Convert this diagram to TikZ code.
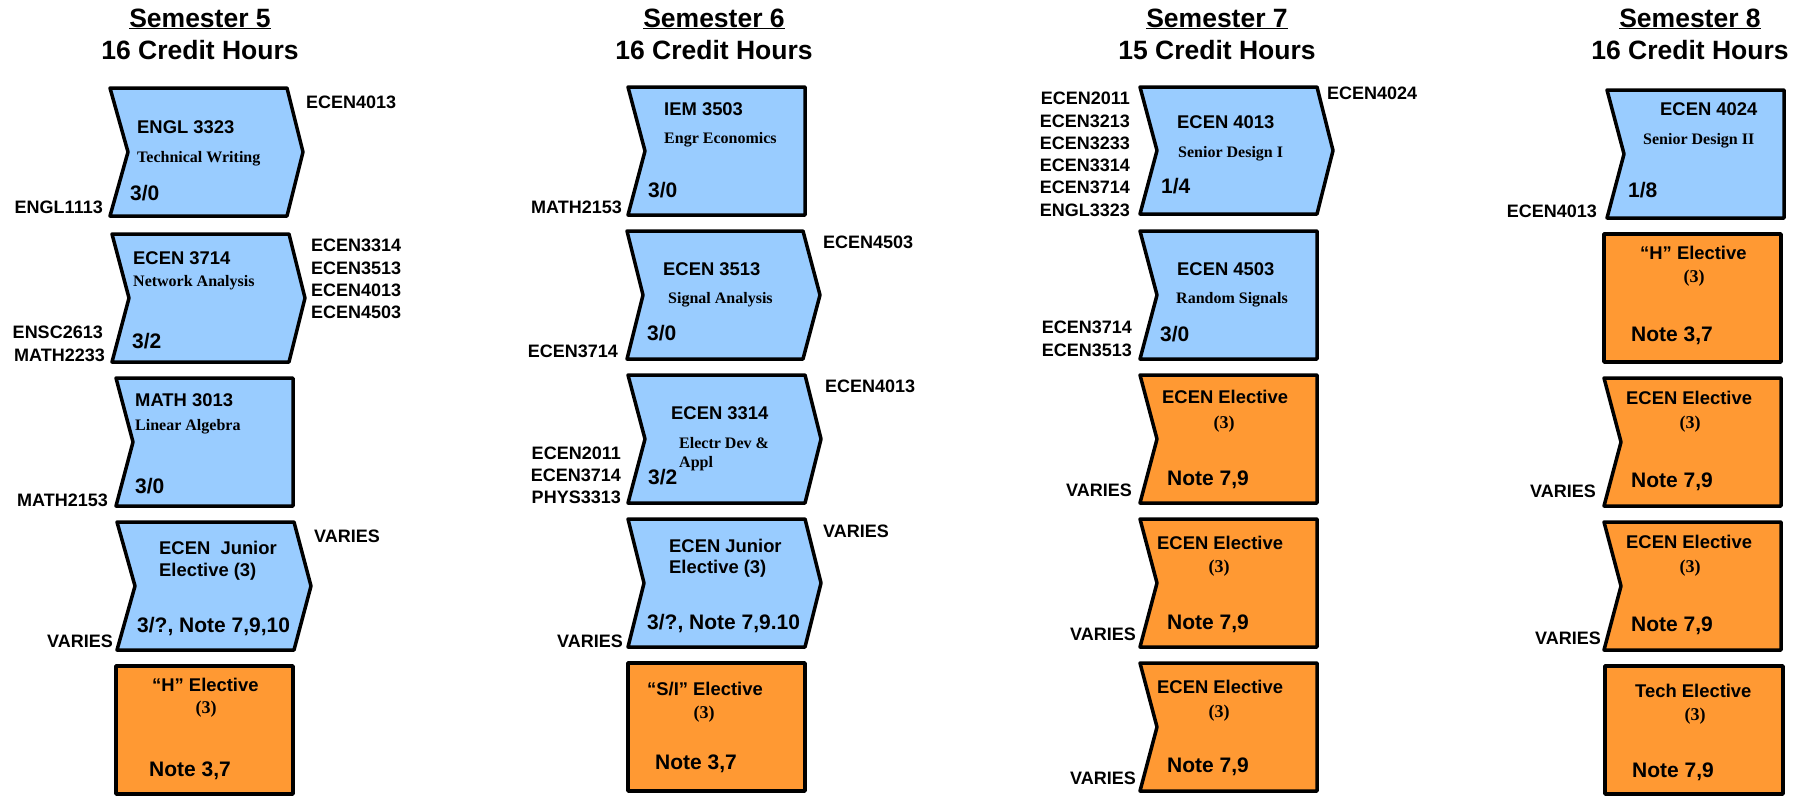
\documentclass[tikz,border=0pt]{standalone}
\usepackage{fontspec}
\setmainfont{Liberation Sans}
\newfontfamily\tms{Liberation Serif}
\definecolor{cblue}{HTML}{99CCFF}
\definecolor{corange}{HTML}{FF9933}
\tikzset{
  boxline/.style={draw=black, line width=3.5pt, line join=round},
  head/.style={font=\bfseries\fontsize{26.5}{30}\selectfont, inner sep=0, anchor=base},
  code/.style={font=\bfseries\fontsize{18.4}{20}\selectfont, inner sep=0, anchor=base west},
  sub/.style={font=\tms\bfseries\fontsize{16}{18}\selectfont, inner sep=0, anchor=base west},
  cr/.style={font=\bfseries\fontsize{21}{24}\selectfont, inner sep=0, anchor=base west},
  paren/.style={font=\tms\bfseries\fontsize{18}{20}\selectfont, inner sep=0, anchor=base},
  pre/.style={font=\bfseries\fontsize{18}{20}\selectfont, inner sep=0, anchor=base east},
  post/.style={font=\bfseries\fontsize{18}{20}\selectfont, inner sep=0, anchor=base west},
}
\newcommand\crsbox[7]{%
  \draw[boxline, fill=#7] (#1,#2) -- (#3,#2) -- ({#3+#6},{(#2+#4)/2}) -- (#3,#4) -- (#1,#4) -- ({#1+#5},{(#2+#4)/2}) -- cycle;}
\begin{document}
\begin{tikzpicture}[x=1pt,y=-1pt]
\useasboundingbox (0,0) rectangle (1798,796);
% headers
\node[head] (h5a) at (200,27) {\underline{Semester 5}};
\node[head] (h5b) at (200,59) {16 Credit Hours};
\node[head] (h6a) at (714,27) {\underline{Semester 6}};
\node[head] (h6b) at (714,59) {16 Credit Hours};
\node[head] (h7a) at (1217,27) {\underline{Semester 7}};
\node[head] (h7b) at (1217,59) {15 Credit Hours};
\node[head] (h8a) at (1690,27) {\underline{Semester 8}};
\node[head] (h8b) at (1690,59) {16 Credit Hours};

% ---------- Semester 5 ----------
\crsbox{110}{88}{287}{216}{18}{16}{cblue}
\crsbox{112}{234}{289}{362}{17}{16}{cblue}
\crsbox{116}{378}{293}{506}{17}{0}{cblue}
\crsbox{117}{522}{294}{650}{18}{17}{cblue}
\crsbox{116}{666}{293}{794}{0}{0}{corange}

\node[code] (s5b1c) at (137,133) {ENGL 3323};
\node[sub]  (s5b1s) at (137,162) {Technical Writing};
\node[cr]   (s5b1h) at (130,200) {3/0};
\node[pre]  (s5b1p) at (103,213) {ENGL1113};
\node[post] (s5b1n) at (306,108) {ECEN4013};

\node[code] (s5b2c) at (133,264) {ECEN 3714};
\node[sub]  (s5b2s) at (133,286) {Network Analysis};
\node[cr]   (s5b2h) at (132,348) {3/2};
\node[pre]  (s5b2p1) at (103,338) {ENSC2613};
\node[pre]  (s5b2p2) at (105,361) {MATH2233};
\node[post] (s5b2n1) at (311,251) {ECEN3314};
\node[post] (s5b2n2) at (311,274) {ECEN3513};
\node[post] (s5b2n3) at (311,296) {ECEN4013};
\node[post] (s5b2n4) at (311,318) {ECEN4503};

\node[code] (s5b3c) at (135,406) {MATH 3013};
\node[sub]  (s5b3s) at (135,430) {Linear Algebra};
\node[cr]   (s5b3h) at (135,493) {3/0};
\node[pre]  (s5b3p) at (108,506) {MATH2153};

\node[code] (s5b4c) at (159,554) {ECEN\ \ Junior};
\node[code] (s5b4d) at (159,576) {Elective (3)};
\node[cr]   (s5b4h) at (137,632) {3/?, Note 7,9,10};
\node[pre]  (s5b4p) at (113,647) {VARIES};
\node[post] (s5b4n) at (314,542) {VARIES};

\node[code]  (s5b5c) at (152,691) {“H” Elective};
\node[paren] (s5b5d) at (206,713) {(3)};
\node[cr]    (s5b5h) at (149,776) {Note 3,7};

% ---------- Semester 6 ----------
\crsbox{628}{87}{805}{215}{17}{0}{cblue}
\crsbox{627}{231}{803}{359}{16}{17}{cblue}
\crsbox{628}{375}{805}{503}{17}{16}{cblue}
\crsbox{628}{519}{805}{647}{16}{16}{cblue}
\crsbox{628}{663}{805}{791}{0}{0}{corange}

\node[code] (s6b1c) at (664,115) {IEM 3503};
\node[sub]  (s6b1s) at (664,143) {Engr Economics};
\node[cr]   (s6b1h) at (648,197) {3/0};
\node[pre]  (s6b1p) at (622,213) {MATH2153};

\node[code] (s6b2c) at (663,275) {ECEN 3513};
\node[sub]  (s6b2s) at (668,303) {Signal Analysis};
\node[cr]   (s6b2h) at (647,340) {3/0};
\node[pre]  (s6b2p) at (618,357) {ECEN3714};
\node[post] (s6b2n) at (823,248) {ECEN4503};

\node[code] (s6b3c) at (671,419) {ECEN 3314};
\node[sub]  (s6b3s) at (679,448) {Electr Dev \&};
\node[sub]  (s6b3t) at (679,467) {Appl};
\node[cr]   (s6b3h) at (648,484) {3/2};
\node[pre]  (s6b3p1) at (621,459) {ECEN2011};
\node[pre]  (s6b3p2) at (621,481) {ECEN3714};
\node[pre]  (s6b3p3) at (621,503) {PHYS3313};
\node[post] (s6b3n) at (825,392) {ECEN4013};

\node[code] (s6b4c) at (669,552) {ECEN Junior};
\node[code] (s6b4d) at (669,573) {Elective (3)};
\node[cr]   (s6b4h) at (647,629) {3/?, Note 7,9.10};
\node[pre]  (s6b4p) at (623,647) {VARIES};
\node[post] (s6b4n) at (823,537) {VARIES};

\node[code]  (s6b5c) at (647,695) {“S/I” Elective};
\node[paren] (s6b5d) at (704,718) {(3)};
\node[cr]    (s6b5h) at (655,769) {Note 3,7};

% ---------- Semester 7 ----------
\crsbox{1140}{87}{1317}{214}{17}{16}{cblue}
\crsbox{1140}{231}{1317}{359}{17}{0}{cblue}
\crsbox{1140}{375}{1317}{503}{17}{0}{corange}
\crsbox{1140}{519}{1317}{647}{17}{0}{corange}
\crsbox{1140}{663}{1317}{791}{17}{0}{corange}

\node[code] (s7b1c) at (1177,128) {ECEN 4013};
\node[sub]  (s7b1s) at (1178,157) {Senior Design I};
\node[cr]   (s7b1h) at (1161,193) {1/4};
\node[pre]  (s7b1p1) at (1130,104) {ECEN2011};
\node[pre]  (s7b1p2) at (1130,127) {ECEN3213};
\node[pre]  (s7b1p3) at (1130,149) {ECEN3233};
\node[pre]  (s7b1p4) at (1130,171) {ECEN3314};
\node[pre]  (s7b1p5) at (1130,193) {ECEN3714};
\node[pre]  (s7b1p6) at (1130,216) {ENGL3323};
\node[post] (s7b1n) at (1327,99) {ECEN4024};

\node[code] (s7b2c) at (1177,275) {ECEN 4503};
\node[sub]  (s7b2s) at (1176,303) {Random Signals};
\node[cr]   (s7b2h) at (1160,341) {3/0};
\node[pre]  (s7b2p1) at (1132,333) {ECEN3714};
\node[pre]  (s7b2p2) at (1132,356) {ECEN3513};

\node[code]  (s7b3c) at (1162,403) {ECEN Elective};
\node[paren] (s7b3d) at (1224,428) {(3)};
\node[cr]    (s7b3h) at (1167,485) {Note 7,9};
\node[pre]   (s7b3p) at (1132,496) {VARIES};

\node[code]  (s7b4c) at (1157,549) {ECEN Elective};
\node[paren] (s7b4d) at (1219,572) {(3)};
\node[cr]    (s7b4h) at (1167,629) {Note 7,9};
\node[pre]   (s7b4p) at (1136,640) {VARIES};

\node[code]  (s7b5c) at (1157,693) {ECEN Elective};
\node[paren] (s7b5d) at (1219,717) {(3)};
\node[cr]    (s7b5h) at (1167,772) {Note 7,9};
\node[pre]   (s7b5p) at (1136,784) {VARIES};

% ---------- Semester 8 ----------
\crsbox{1607}{90}{1784}{218}{17}{0}{cblue}
\crsbox{1604}{234}{1781}{362}{0}{0}{corange}
\crsbox{1604}{378}{1781}{506}{17}{0}{corange}
\crsbox{1604}{522}{1781}{650}{17}{0}{corange}
\crsbox{1605}{666}{1783}{794}{0}{0}{corange}

\node[code] (s8b1c) at (1660,115) {ECEN 4024};
\node[sub]  (s8b1s) at (1643,144) {Senior Design II};
\node[cr]   (s8b1h) at (1628,197) {1/8};
\node[pre]  (s8b1p) at (1597,217) {ECEN4013};

\node[code]  (s8b2c) at (1640,259) {“H” Elective};
\node[paren] (s8b2d) at (1694,282) {(3)};
\node[cr]    (s8b2h) at (1631,341) {Note 3,7};

\node[code]  (s8b3c) at (1626,404) {ECEN Elective};
\node[paren] (s8b3d) at (1690,428) {(3)};
\node[cr]    (s8b3h) at (1631,487) {Note 7,9};
\node[pre]   (s8b3p) at (1596,497) {VARIES};

\node[code]  (s8b4c) at (1626,548) {ECEN Elective};
\node[paren] (s8b4d) at (1690,572) {(3)};
\node[cr]    (s8b4h) at (1631,631) {Note 7,9};
\node[pre]   (s8b4p) at (1601,644) {VARIES};

\node[code]  (s8b5c) at (1635,697) {Tech Elective};
\node[paren] (s8b5d) at (1695,720) {(3)};
\node[cr]    (s8b5h) at (1632,777) {Note 7,9};
\end{tikzpicture}
\end{document}
